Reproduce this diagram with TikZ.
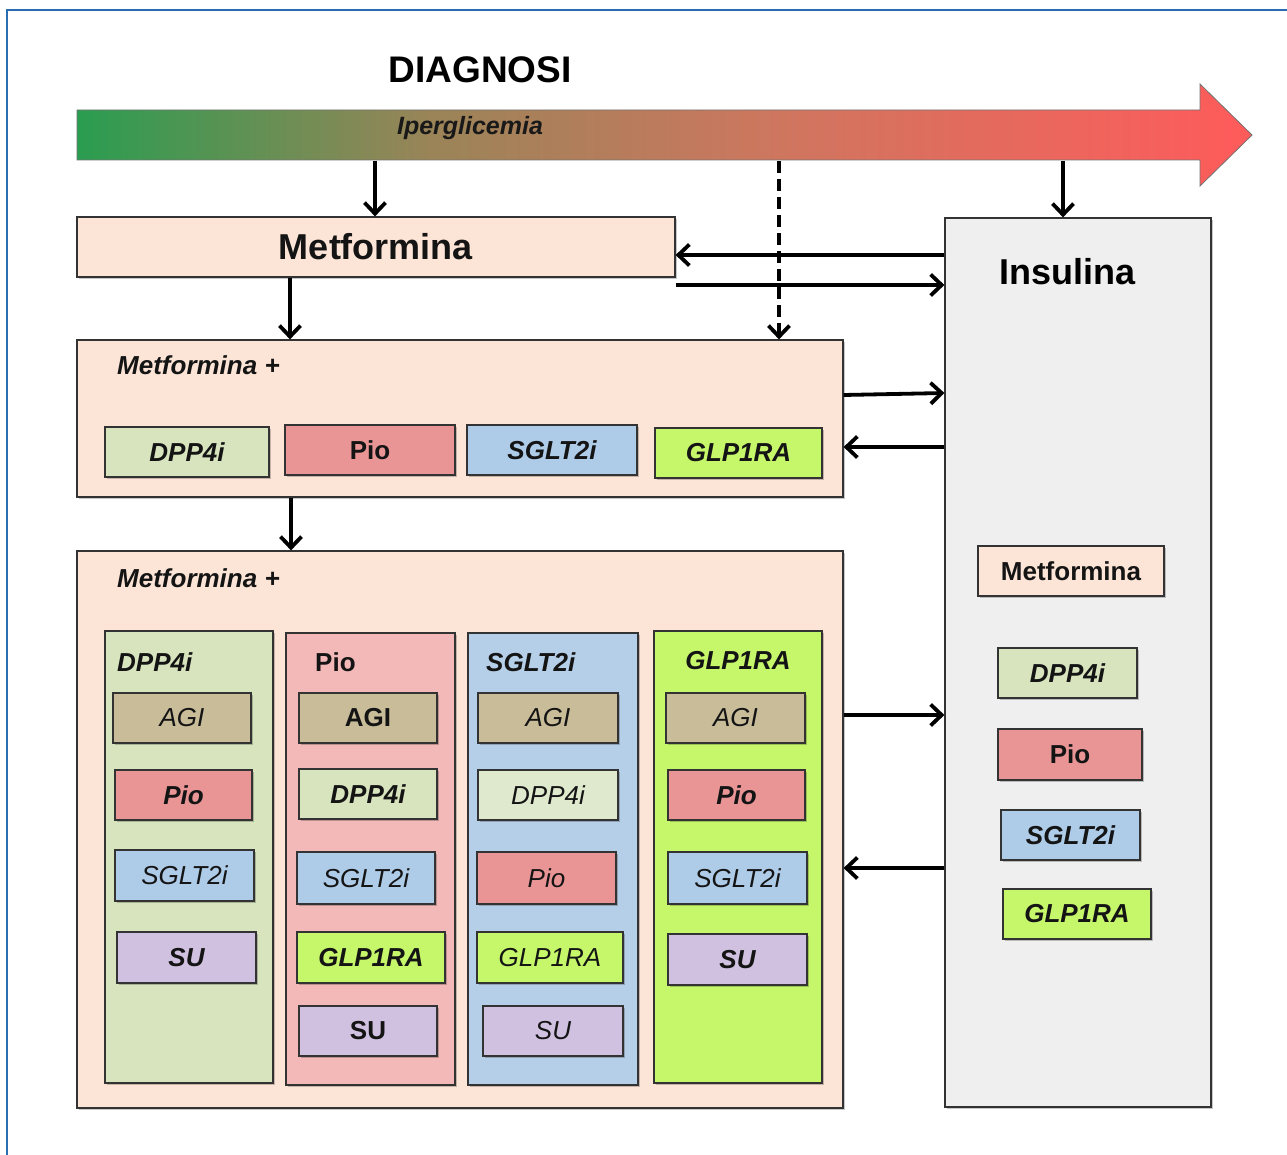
\documentclass[tikz,border=0pt]{standalone}
\usepackage{fontspec}
\setmainfont{Liberation Sans}
\usetikzlibrary{arrows.meta,shadows}
\definecolor{peach}{HTML}{FCE4D6}
\definecolor{insg}{HTML}{EFEFEF}
\definecolor{dppg}{HTML}{D7E4BD}
\definecolor{dppl}{HTML}{DEE9CD}
\definecolor{pios}{HTML}{E99595}
\definecolor{piok}{HTML}{F3B9B9}
\definecolor{sgltb}{HTML}{AECBE8}
\definecolor{sgltc}{HTML}{B6CFE8}
\definecolor{glpl}{HTML}{C6F76B}
\definecolor{agit}{HTML}{C8BC99}
\definecolor{sulv}{HTML}{D1C1E0}
\definecolor{frameblue}{HTML}{2A6DB0}
\definecolor{gA}{HTML}{2A9D50}
\definecolor{gB}{HTML}{9A8458}
\definecolor{gC}{HTML}{CF765F}
\definecolor{gD}{HTML}{FF5B5B}
\pgfdeclarehorizontalshading{iper}{100bp}{color(0bp)=(gA); color(25bp)=(gA); color(40bp)=(gB); color(55bp)=(gC); color(75bp)=(gD); color(100bp)=(gD)}
\newcommand{\fBI}{\fontsize{26}{30}\selectfont\bfseries\itshape}
\newcommand{\fB}{\fontsize{26}{30}\selectfont\bfseries}
\newcommand{\fI}{\fontsize{26}{30}\selectfont\itshape}
\newcommand{\mybox}[8]{\node[rb, fill=#6, font=#7, minimum width={#4-#2}, minimum height={#5-#3}] (#1) at ({(#2+#4)/2},{(#3+#5)/2}) {#8};}
\begin{document}
\begin{tikzpicture}[x=1pt,y=-1pt,
  rb/.style={draw=black!80, line width=1.2pt, inner sep=0pt, text=black!92,
    drop shadow={shadow xshift=2pt, shadow yshift=-2pt, opacity=0.22, fill=black}},
  arr/.style={line width=3.8pt, -{Straight Barb[length=11pt,width=21pt,line width=3.8pt]}},
  hdr/.style={font=\fBI, text=black!92, inner sep=0pt}]
\useasboundingbox (0,0) rectangle (1287,1155);
\fill[white] (0,0) rectangle (1287,1155);
\draw[frameblue, line width=2.5pt] (7,1160) -- (7,10) -- (1292,10);

\node[font=\fontsize{37}{40}\selectfont\bfseries] (diag) at (480,70) {DIAGNOSI};
\path[shading=iper, draw=black!55, line width=0.8pt] (77,110) -- (1200,110) -- (1200,84) -- (1252,135) -- (1200,186) -- (1200,160) -- (77,160) -- cycle;
\node[font=\fontsize{25}{28}\selectfont\bfseries\itshape, text=black!90] (iper) at (470,128) {Iperglicemia};

% main boxes
\mybox{metf}{77}{217}{675}{277}{peach}{\fontsize{36}{40}\selectfont\bfseries}{Metformina}
\mybox{ins}{945}{218}{1211}{1107}{insg}{}{}
\node[font=\fontsize{36}{40}\selectfont\bfseries] (institle) at (1067,272) {Insulina};

\mybox{mp1}{77}{340}{843}{497}{peach}{}{}
\node[hdr, anchor=west] (mp1t) at (117,365) {Metformina +};
\mybox{b1a}{105}{427}{269}{477}{dppg}{\fBI}{DPP4i}
\mybox{b1b}{285}{425}{455}{475}{pios}{\fB}{Pio}
\mybox{b1c}{467}{425}{637}{475}{sgltb}{\fBI}{SGLT2i}
\mybox{b1d}{655}{428}{822}{478}{glpl}{\fBI}{GLP1RA}

\mybox{mp2}{77}{551}{843}{1108}{peach}{}{}
\node[hdr, anchor=west] (mp2t) at (117,578) {Metformina +};

% column 1
\mybox{c1}{105}{631}{273}{1083}{dppg}{}{}
\node[hdr, anchor=west] (c1t) at (117,662) {DPP4i};
\mybox{c1a}{113}{693}{251}{743}{agit}{\fI}{AGI}
\mybox{c1b}{115}{770}{252}{820}{pios}{\fBI}{Pio}
\mybox{c1c}{115}{850}{254}{901}{sgltb}{\fI}{SGLT2i}
\mybox{c1d}{117}{932}{256}{983}{sulv}{\fBI}{SU}

% column 2
\mybox{c2}{286}{633}{455}{1085}{piok}{}{}
\node[hdr, font=\fB, anchor=west] (c2t) at (315,662) {Pio};
\mybox{c2a}{299}{693}{437}{743}{agit}{\fB}{AGI}
\mybox{c2b}{299}{769}{437}{819}{dppg}{\fBI}{DPP4i}
\mybox{c2c}{297}{852}{435}{904}{sgltb}{\fI}{SGLT2i}
\mybox{c2d}{297}{932}{445}{983}{glpl}{\fBI}{GLP1RA}
\mybox{c2e}{299}{1006}{437}{1056}{sulv}{\fB}{SU}

% column 3
\mybox{c3}{468}{633}{638}{1085}{sgltc}{}{}
\node[hdr, anchor=west] (c3t) at (486,662) {SGLT2i};
\mybox{c3a}{478}{693}{618}{743}{agit}{\fI}{AGI}
\mybox{c3b}{478}{770}{618}{820}{dppl}{\fI}{DPP4i}
\mybox{c3c}{477}{852}{616}{904}{pios}{\fI}{Pio}
\mybox{c3d}{477}{932}{623}{983}{glpl}{\fI}{GLP1RA}
\mybox{c3e}{483}{1006}{623}{1056}{sulv}{\fI}{SU}

% column 4
\mybox{c4}{654}{631}{822}{1083}{glpl}{}{}
\node[hdr] (c4t) at (738,661) {GLP1RA};
\mybox{c4a}{666}{693}{805}{743}{agit}{\fI}{AGI}
\mybox{c4b}{668}{770}{805}{820}{pios}{\fBI}{Pio}
\mybox{c4c}{668}{852}{807}{904}{sgltb}{\fI}{SGLT2i}
\mybox{c4d}{668}{934}{807}{985}{sulv}{\fBI}{SU}

% insulina contents
\mybox{i1}{978}{546}{1164}{596}{peach}{\fB}{Metformina}
\mybox{i2}{998}{648}{1137}{698}{dppg}{\fBI}{DPP4i}
\mybox{i3}{998}{729}{1142}{780}{pios}{\fB}{Pio}
\mybox{i4}{1001}{810}{1140}{860}{sgltb}{\fBI}{SGLT2i}
\mybox{i5}{1003}{889}{1151}{939}{glpl}{\fBI}{GLP1RA}

% connectors
\coordinate (a1) at (375,161);
\coordinate (a2) at (779,161);
\coordinate (a3) at (1063,161);
\draw[arr] (a1) -- (a1 |- metf.north);
\draw[arr, dash pattern=on 12pt off 6pt] (a2) -- (a2 |- mp1.north);
\draw[arr] (a3) -- (a3 |- ins.north);
\draw[arr] (ins.west |- 0,255) -- (metf.east |- 0,255);
\draw[arr] (metf.east |- 0,285) -- (ins.west |- 0,285);
\draw[arr] (metf.south -| 290,0) -- (mp1.north -| 290,0);
\draw[arr] (mp1.south -| 291,0) -- (mp2.north -| 291,0);
\draw[arr] (mp1.east |- 0,395) -- (ins.west |- 0,393);
\draw[arr] (ins.west |- 0,447) -- (mp1.east |- 0,447);
\draw[arr] (mp2.east |- 0,715) -- (ins.west |- 0,715);
\draw[arr] (ins.west |- 0,868) -- (mp2.east |- 0,868);
\end{tikzpicture}
\end{document}
